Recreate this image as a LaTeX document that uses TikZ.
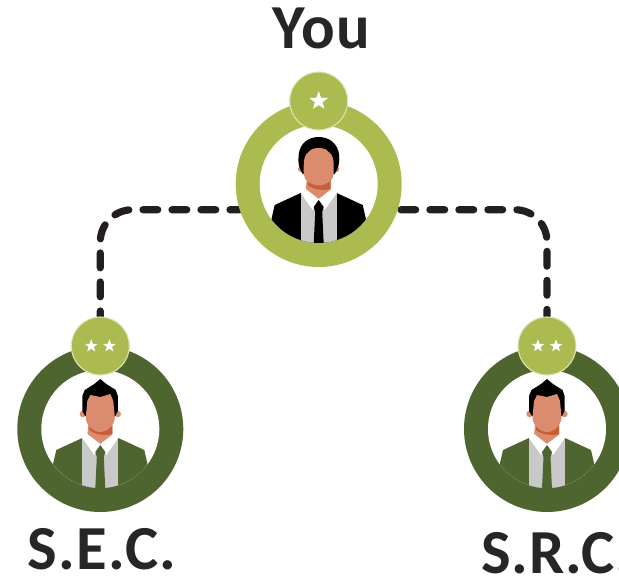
\documentclass[tikz,border=0pt]{standalone}
\usepackage{fontspec}
\setmainfont[LetterSpace=2]{Carlito}
\usetikzlibrary{shapes.geometric,backgrounds}
\definecolor{lightgreen}{HTML}{ABBB4F}
\definecolor{darkgreen}{HTML}{4F6530}
\definecolor{linedark}{HTML}{231F20}
\definecolor{textdark}{HTML}{262626}
\definecolor{skin}{HTML}{DC8C6E}
\definecolor{skinshade}{HTML}{C65F38}
\definecolor{shirtgrey}{HTML}{C9C9C9}
\tikzset{
  ringnode/.style={circle,inner sep=0pt,minimum size=124.5pt,fill=#1},
  holenode/.style={circle,inner sep=0pt,minimum size=88.5pt,fill=white},
  badgenode/.style={circle,inner sep=0pt,minimum size=43.5pt,fill=lightgreen,draw=lightgreen!40!white,line width=0.8pt},
  starnode/.style={star,star points=5,star point ratio=2.4,inner sep=0pt,minimum size=#1,fill=white},
  linkline/.style={draw=linedark,line width=5.4pt,line cap=round,dash pattern=on 11.1pt off 10.65pt,rounded corners=24pt},
  caption/.style={inner sep=0pt,anchor=base,font=\fontsize{47}{47}\selectfont\bfseries,text=textdark}
}
% body of a figure, in px relative to the ring centre
\newcommand{\figbody}[2]{%
  \clip (0,0) circle (59);
  \fill[#1] (-50,60) -- (-47,34) -- (-44,21) -- (-18,9) -- (18,9) -- (44,21) -- (47,34) -- (50,60) -- cycle;
  \fill[shirtgrey] (-18,9) rectangle (18,60);
  \fill[skin] (-12,-4) -- (-13,7) -- (0,15) -- (12,7) -- (12,-4) -- cycle;
  \fill[skinshade] (-11,-3) -- (-11,1) .. controls (-5,6) and (5,7) .. (12,5) -- (12,-4) -- cycle;
  \fill[skin] (-17.5,-15) circle (3.2) (17.5,-15) circle (3.2);
  \fill[white] (-13,5) -- (0,15) -- (13,5) -- (18,9) -- (6,26) -- (0,17) -- (-6,26) -- (-18,9) -- cycle;
  \fill[#2] (0,16) -- (-5,23) -- (-3.5,28) -- (-5,60) -- (5,60) -- (3.5,28) -- (5,23) -- cycle;
}
\newcommand{\curlyhead}{%
  \fill[black] (-16,-10) .. controls (-20,-16) and (-21,-22) .. (-20,-29) .. controls (-19,-41) and (-10,-47) .. (0,-47) .. controls (10,-47) and (19,-41) .. (20.5,-29) .. controls (21,-22) and (20,-16) .. (16,-10) -- cycle;
  \fill[skin] (-15,-18) .. controls (-15,-24) and (-14,-30) .. (-10,-32) .. controls (-8,-35) and (-4,-36) .. (0,-36) .. controls (4,-36) and (8,-35) .. (10,-32) .. controls (14,-30) and (15,-24) .. (15,-18) -- (15,-10) .. controls (15,-3) and (6,1.5) .. (0,1.5) .. controls (-6,1.5) and (-15,-3) .. (-15,-10) -- cycle;
}
\newcommand{\pointyhead}{%
  \fill[black] (0,-50) -- (-6,-45) -- (-15.5,-39) -- (-18,-33) -- (-18,-18) -- (-15,-13) -- (15,-13) -- (17.5,-18) -- (17.5,-33) -- (15.5,-39) -- (6,-45) -- cycle;
  \fill[skin] (-14.5,-12) -- (-13,-28) -- (-10,-34) -- (0,-32) -- (10,-35) -- (13,-28) -- (14.5,-12) .. controls (14.5,-3) and (6,3) .. (0,3) .. controls (-6,3) and (-14.5,-3) .. (-14.5,-12) -- cycle;
}
\begin{document}
\begin{tikzpicture}[x=0.75pt,y=-0.75pt]
\clip (0,0) rectangle (619,579);
% rings
\node[ringnode=lightgreen] (you) at (318.7,184) {};
\node[ringnode=darkgreen] (sec) at (100.3,429) {};
\node[ringnode=darkgreen] (src) at (547,429) {};
\node[holenode] (youhole) at (you) {};
\node[holenode] (sechole) at (sec) {};
\node[holenode] (srchole) at (src) {};
% figures
\begin{scope}[shift={(you.center)}]
  \figbody{black}{black}\curlyhead
\end{scope}
\begin{scope}[shift={(sec.center)}]
  \figbody{darkgreen}{darkgreen}\pointyhead
\end{scope}
\begin{scope}[shift={(src.center)}]
  \figbody{darkgreen}{darkgreen}\pointyhead
\end{scope}
% badges
\node[badgenode] (youbadge) at (318.7,101) {};
\node[badgenode] (secbadge) at (100.3,346) {};
\node[badgenode] (srcbadge) at (547,346) {};
\node[starnode=14.5pt] (youstar) at (youbadge) {};
\node[starnode=10pt] (secstara) at ([xshift=-6.8pt]secbadge.center) {};
\node[starnode=10pt] (secstarb) at ([xshift=6.8pt]secbadge.center) {};
\node[starnode=10pt] (srcstara) at ([xshift=-6.8pt]srcbadge.center) {};
\node[starnode=10pt] (srcstarb) at ([xshift=6.8pt]srcbadge.center) {};
% connectors
\begin{pgfonlayer}{background}
  \draw[linkline,dash phase=7pt] (secbadge.north) -- (secbadge.north |- you.198) -- (you.198);
  \draw[linkline,dash phase=19.5pt] (you.-18) -- (srcbadge.north |- you.-18) -- (srcbadge.north);
\end{pgfonlayer}
% captions
\node[caption] (youlabel) at (321,48.5) {You};
\node[caption] (seclabel) at (102,569) {S.E.C.};
\node[caption] (srclabel) at (557,573) {\addfontfeature{LetterSpace=1}S.R.C.};
\end{tikzpicture}
\end{document}
